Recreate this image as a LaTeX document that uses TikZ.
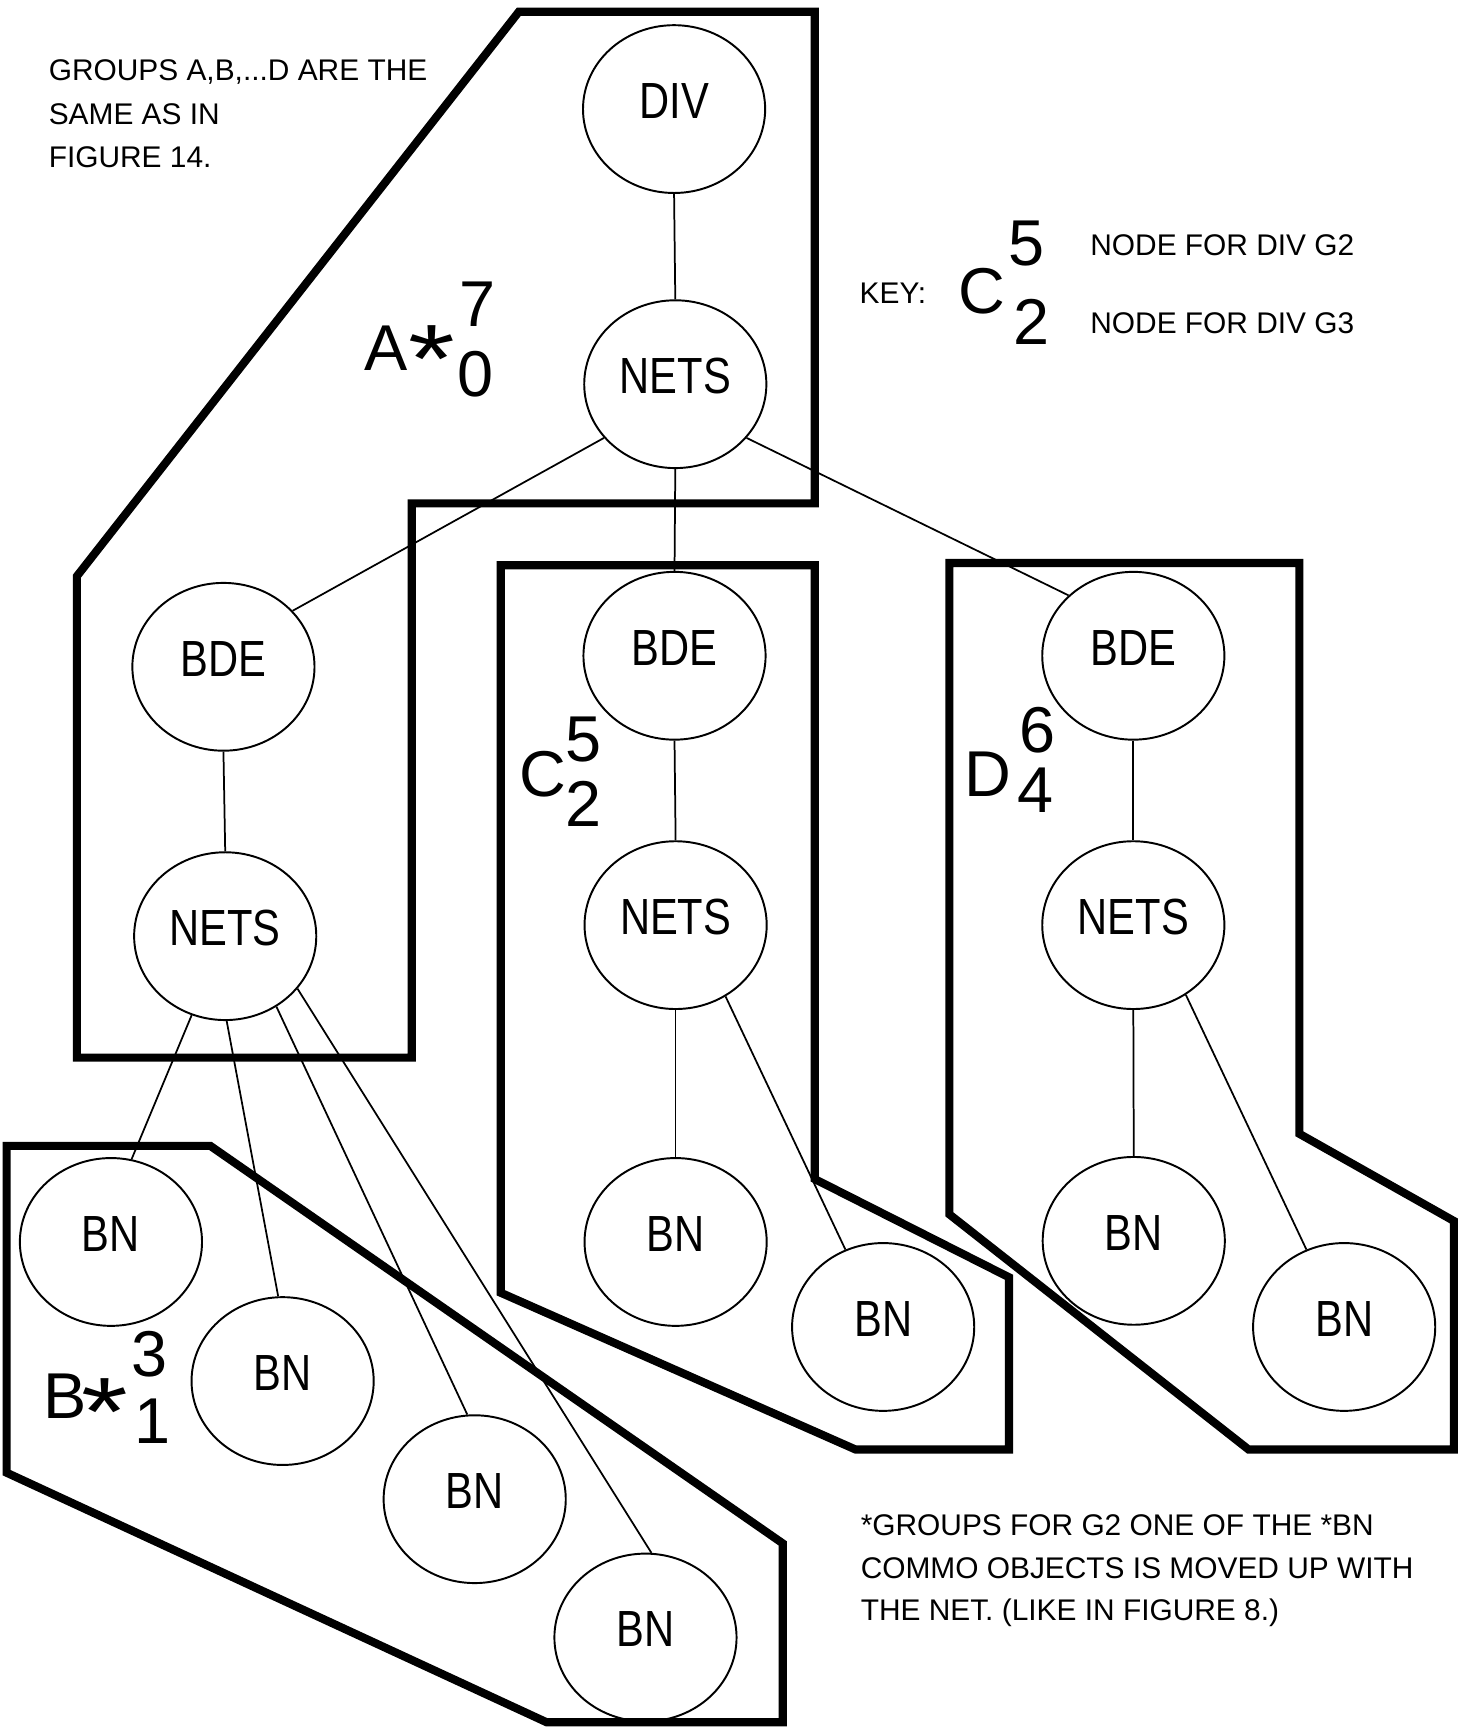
\documentclass[tikz,border=0pt]{standalone}
\usepackage{fontspec}
\setmainfont{Liberation Sans}
\newfontfamily\nodefont[FakeStretch=0.82]{Liberation Sans}
\usetikzlibrary{shapes.geometric}
\begin{document}
\begin{tikzpicture}[x=0.1mm,y=-0.1mm,
  obj/.style={draw, ellipse, line width=0.5pt, minimum width=16.5mm, minimum height=15.2mm,
    inner sep=0pt, font=\nodefont\fontsize{13.1}{15}\selectfont, text height=3.3mm, text depth=1.6mm},
  link/.style={line width=0.45pt},
  grp/.style={line width=2.1pt, line join=miter},
  big/.style={inner sep=0pt, font=\fontsize{16.7}{20}\selectfont},
  note/.style={inner sep=0pt, anchor=base west, font=\fontsize{7.7}{9}\selectfont}]
\useasboundingbox (0,0) rectangle (1328,1568);

% group outlines
\draw[grp] (470,10.6) -- (738,10.6) -- (738,456) -- (373,456) -- (373,958) -- (69.6,958) -- (69.6,522) -- cycle;
\draw[grp] (453.6,512) -- (738,512) -- (738,1068) -- (914,1157) -- (914,1313) -- (775,1313) -- (453.6,1171) -- cycle;
\draw[grp] (860,510) -- (1177,510) -- (1177,1027) -- (1317,1106) -- (1317,1313) -- (1131,1313) -- (860,1100) -- cycle;
\draw[grp] (6,1038) -- (190.6,1038) -- (709,1398) -- (709,1560) -- (495,1560) -- (6,1334) -- cycle;

% objects
\node[obj] (div) at (610.6,98.8) {DIV};
\node[obj] (netsA) at (611.7,348) {NETS};
\node[obj] (bdeB) at (202.4,604) {BDE};
\node[obj] (netsB) at (204,848) {NETS};
\node[obj] (bdeC) at (611,594) {BDE};
\node[obj] (netsC) at (612,838) {NETS};
\node[obj] (bdeD) at (1026.6,594) {BDE};
\node[obj] (netsD) at (1026.6,838) {NETS};
\node[obj] (bnB1) at (100.5,1125) {BN};
\node[obj] (bnB2) at (256,1251) {BN};
\node[obj] (bnB3) at (430,1358) {BN};
\node[obj] (bnB4) at (584.7,1483.3) {BN};
\node[obj] (bnC1) at (612,1125) {BN};
\node[obj] (bnC2) at (800,1202) {BN};
\node[obj] (bnD1) at (1027,1124) {BN};
\node[obj] (bnD2) at (1217.6,1202) {BN};

% connectors
\draw[link] (div.south) -- (netsA.north);
\draw[link] (netsA.217.8) -- (bdeB.39);
\draw[link] (netsA.south) -- (bdeC.north);
\draw[link] (netsA.-37) -- (bdeD.137.7);
\draw[link] (bdeB.south) -- (netsB.north);
\draw[link] (bdeC.south) -- (netsC.north);
\draw[link] (bdeD.south) -- (netsD.north);
\draw[link] (netsB.247) -- (bnB1.76);
\draw[link] (netsB.-89) -- (bnB2.93);
\draw[link] (netsB.-54.5) -- (bnB3.95);
\draw[link] (netsB.-36.2) -- (bnB4.86.7);
\draw[link] (netsC.south) -- (bnC1.north);
\draw[link] (netsC.-55) -- (bnC2.116.6);
\draw[link] (netsD.south) -- (bnD1.north);
\draw[link] (netsD.-53.5) -- (bnD2.116.8);

% group labels
\node[big] (lA) at (349.5,315.5) {A};
\node[big, anchor=north] (lAs) at (391,294.4) {\scalebox{1.85}[1.5]{*}};
\node[big] (lA7) at (432.5,275.5) {7};
\node[big] (lA0) at (431,339) {0};

\node[big] (lC) at (492,701.5) {C};
\node[big] (lC5) at (529,670) {5};
\node[big] (lC2) at (529,728) {2};

\node[big] (lD) at (895,701.5) {D};
\node[big] (lD6) at (940,661) {6};
\node[big] (lD4) at (938,715.5) {4};

\node[big] (lB) at (59,1265) {B};
\node[big, anchor=north] (lBs) at (95,1248) {\scalebox{1.85}[1.5]{*}};
\node[big] (lB3) at (135,1227) {3};
\node[big] (lB1) at (138,1287.5) {1};

% key
\node[note] (key) at (778,274.7) {KEY:};
\node[big] (kC) at (889,263.5) {C};
\node[big] (k5) at (930,221) {5};
\node[big] (k2) at (934,292) {2};
\node[note] (kt1) at (987,231) {NODE FOR DIV G2};
\node[note] (kt2) at (987,302) {NODE FOR DIV G3};

% notes
\node[note] (n1) at (43.5,72.5) {GROUPS A,B,...D ARE THE};
\node[note] (n2) at (43.5,113) {SAME AS IN};
\node[note] (n3) at (43.5,152) {FIGURE 14.};

\node[note] (m1) at (779,1391) {*GROUPS FOR G2 ONE OF THE *BN};
\node[note] (m2) at (779,1430) {COMMO OBJECTS IS MOVED UP WITH};
\node[note] (m3) at (779,1468) {THE NET. (LIKE IN FIGURE 8.)};
\end{tikzpicture}
\end{document}
